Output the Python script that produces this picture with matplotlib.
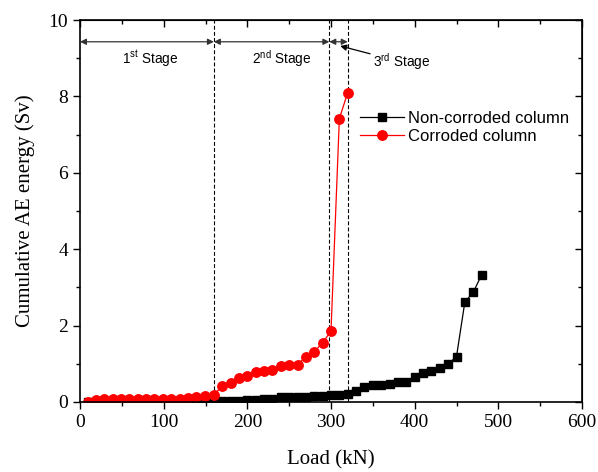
import matplotlib
matplotlib.use("Agg")
import matplotlib.pyplot as plt

plt.rcParams['mathtext.fontset'] = 'custom'
plt.rcParams['mathtext.rm'] = 'Liberation Sans'
plt.rcParams['mathtext.it'] = 'Liberation Sans:italic'

# Non-corroded column
load_nc = [10, 20, 30, 40, 50, 60, 70, 80, 90, 100, 110, 120, 130, 140, 150, 160,
           170, 180, 190, 200, 210, 220, 230, 240, 250, 260, 270, 280, 290, 300,
           310, 320, 330, 340, 350, 360, 370, 380, 390, 400, 410, 420, 430, 440,
           450, 460, 470, 480]
energy_nc = [0.01, 0.01, 0.01, 0.01, 0.01, 0.01, 0.01, 0.01, 0.01, 0.01, 0.01, 0.02,
             0.02, 0.02, 0.02, 0.03, 0.03, 0.03, 0.03, 0.04, 0.05, 0.07, 0.09, 0.12,
             0.13, 0.14, 0.14, 0.165, 0.165, 0.18, 0.18, 0.21, 0.30, 0.40, 0.44, 0.45,
             0.47, 0.52, 0.53, 0.65, 0.77, 0.82, 0.90, 0.99, 1.19, 2.62, 2.87, 3.33]

# Corroded column
load_c = [9, 19, 29, 39, 49, 59, 69, 79, 89, 99, 109, 119, 129, 139, 149, 160,
          170, 180, 190, 200, 210, 220, 230, 240, 250, 260, 270, 280, 290, 300,
          310, 320]
energy_c = [0.01, 0.06, 0.07, 0.07, 0.07, 0.07, 0.07, 0.07, 0.07, 0.07, 0.08, 0.08,
            0.10, 0.12, 0.17, 0.19, 0.42, 0.49, 0.62, 0.68, 0.79, 0.82, 0.84, 0.94,
            0.96, 0.98, 1.19, 1.32, 1.55, 1.86, 7.42, 8.10]

stage_bounds = [0, 160, 298, 320]
stage_labels = ["1$^{\\mathrm{st}}$ Stage", "2$^{\\mathrm{nd}}$ Stage", "3$^{\\mathrm{rd}}$ Stage"]

fig = plt.figure(figsize=(5.98, 4.72), dpi=100)
ax = fig.add_axes([80/598, 70/472, 502/598, 382/472])

ax.plot(load_nc, energy_nc, color='black', lw=0.9, marker='s', markersize=6,
        label='Non-corroded column')
ax.plot(load_c, energy_c, color='red', lw=0.9, marker='o', markersize=6.8,
        label='Corroded column')

for xb in stage_bounds[1:]:
    ax.axvline(xb, color='black', ls=(0, (3.5, 2)), lw=0.8, zorder=1)

ya = 9.43
for i in range(3):
    ax.annotate('', xy=(stage_bounds[i], ya), xytext=(stage_bounds[i+1], ya),
                arrowprops=dict(arrowstyle='<|-|>', color='#333333', lw=0.9,
                                shrinkA=0, shrinkB=0, mutation_scale=9))
ax.text(84, 8.98, stage_labels[0], fontsize=9.8, family='Liberation Sans',
        ha='center', va='center')
ax.text(241, 8.98, stage_labels[1], fontsize=9.8, family='Liberation Sans',
        ha='center', va='center')
ax.annotate(stage_labels[2], xy=(311, 9.32), xytext=(350, 8.9),
            fontsize=9.8, family='Liberation Sans', ha='left', va='center',
            arrowprops=dict(arrowstyle='-|>', color='black', lw=0.9,
                            shrinkA=0, shrinkB=0, mutation_scale=9))

ax.set_xlim(0, 600)
ax.set_ylim(0, 10)
ax.set_xticks([0, 100, 200, 300, 400, 500, 600])
ax.set_xticks([50, 150, 250, 350, 450, 550], minor=True)
ax.set_yticks([0, 2, 4, 6, 8, 10])
ax.set_yticks([1, 3, 5, 7, 9], minor=True)
ax.tick_params(which='both', direction='out', top=False, right=False)
ax.tick_params(which='major', length=5, width=1)
ax.tick_params(which='minor', length=3, width=1)
for lab in ax.get_xticklabels() + ax.get_yticklabels():
    lab.set_family('Liberation Serif')
    lab.set_fontsize(14)

# inward ticks on top and right
axt = ax.secondary_xaxis('top')
axt.set_xticks([0, 100, 200, 300, 400, 500, 600])
axt.set_xticks([50, 150, 250, 350, 450, 550], minor=True)
axt.tick_params(which='both', direction='in', labeltop=False)
axt.tick_params(which='major', length=5, width=1)
axt.tick_params(which='minor', length=3, width=1)
axr = ax.secondary_yaxis('right')
axr.set_yticks([0, 2, 4, 6, 8, 10])
axr.set_yticks([1, 3, 5, 7, 9], minor=True)
axr.tick_params(which='both', direction='in', labelright=False)
axr.tick_params(which='major', length=5, width=1)
axr.tick_params(which='minor', length=3, width=1)

for s in ax.spines.values():
    s.set_linewidth(1.2)

ax.set_xlabel('Load (kN)', fontsize=15, family='Liberation Serif', labelpad=14)
ax.set_ylabel('Cumulative AE energy (Sv)', fontsize=15, family='Liberation Serif', labelpad=10)

ax.legend(loc='upper left', bbox_to_anchor=(0.545, 0.78), frameon=False,
          prop={'family': 'Liberation Sans', 'size': 12},
          handlelength=2.6, handletextpad=0.25, labelspacing=0.2, borderaxespad=0)

fig.savefig('out.png', dpi=100)
